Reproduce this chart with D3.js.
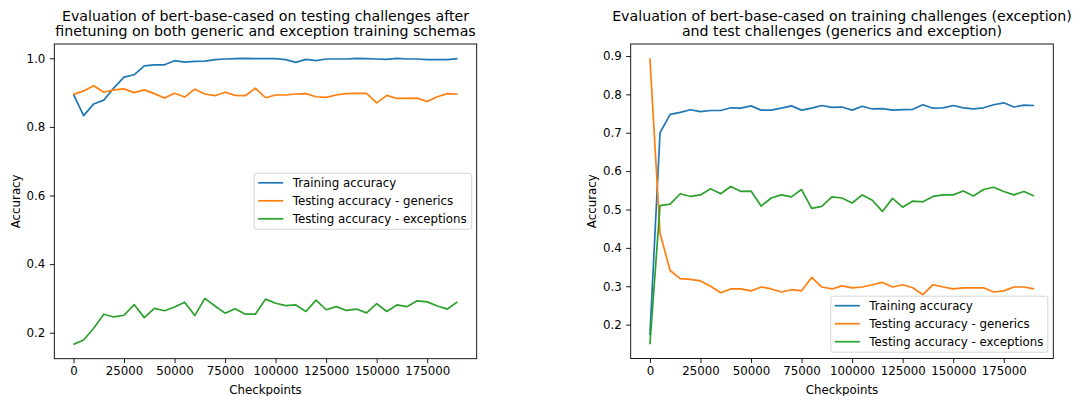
<!DOCTYPE html>
<html>
<head>
<meta charset="utf-8">
<script src="https://cdn.jsdelivr.net/npm/d3@7"></script>
<style>
  body { margin: 0; background: white; }
  text { font-family: "DejaVu Sans", sans-serif; fill: #000; }
</style>
</head>
<body>
<div id="vis"></div>
<script>
var width = 1073;
var height = 396;

// checkpoints, every 5000 steps
var checkpoints = d3.range(0, 190001, 5000);
var xTicks = [0, 25000, 50000, 75000, 100000, 125000, 150000, 175000];
var seriesNames = ["Training accuracy", "Testing accuracy - generics", "Testing accuracy - exceptions"];
var colors = ["#1f77b4", "#ff7f0e", "#2ca02c"];

// left chart
var leftTrain = [0.895, 0.833, 0.867, 0.878, 0.914, 0.945, 0.952, 0.978, 0.981, 0.981,
  0.993, 0.989, 0.991, 0.992, 0.996, 0.998, 0.999, 1.0, 0.999, 0.999,
  0.999, 0.996, 0.988, 0.997, 0.993, 0.998, 0.998, 0.998, 1.0, 0.999,
  0.998, 0.997, 1.0, 0.998, 0.998, 0.996, 0.996, 0.996, 0.999];
var leftGenerics = [0.895, 0.905, 0.920, 0.901, 0.908, 0.911, 0.900, 0.908, 0.897, 0.884,
  0.898, 0.887, 0.910, 0.896, 0.891, 0.901, 0.892, 0.891, 0.913, 0.885,
  0.893, 0.893, 0.896, 0.897, 0.888, 0.886, 0.893, 0.897, 0.898, 0.898,
  0.870, 0.892, 0.883, 0.883, 0.884, 0.874, 0.888, 0.897, 0.896];
var leftExceptions = [0.166, 0.179, 0.213, 0.254, 0.246, 0.251, 0.282, 0.244, 0.271, 0.264,
  0.275, 0.289, 0.250, 0.300, 0.278, 0.257, 0.270, 0.254, 0.254, 0.298,
  0.286, 0.279, 0.281, 0.262, 0.295, 0.267, 0.276, 0.265, 0.269, 0.258,
  0.285, 0.262, 0.281, 0.276, 0.293, 0.290, 0.278, 0.269, 0.290];
var leftTicks = [0.2, 0.4, 0.6, 0.8, 1.0];

// right chart
var rightTrain = [0.173, 0.700, 0.748, 0.753, 0.760, 0.755, 0.758, 0.758, 0.765, 0.764,
  0.770, 0.759, 0.759, 0.764, 0.770, 0.759, 0.764, 0.771, 0.766, 0.767,
  0.759, 0.769, 0.762, 0.763, 0.759, 0.760, 0.761, 0.773, 0.764, 0.765,
  0.771, 0.765, 0.762, 0.765, 0.773, 0.778, 0.767, 0.772, 0.771];
var rightGenerics = [0.894, 0.438, 0.341, 0.320, 0.318, 0.314, 0.300, 0.283, 0.293, 0.293,
  0.288, 0.298, 0.293, 0.285, 0.291, 0.288, 0.323, 0.298, 0.293, 0.301,
  0.296, 0.298, 0.304, 0.310, 0.298, 0.304, 0.296, 0.278, 0.304, 0.298,
  0.293, 0.296, 0.296, 0.296, 0.285, 0.288, 0.298, 0.298, 0.293];
var rightExceptions = [0.149, 0.510, 0.514, 0.541, 0.534, 0.538, 0.554, 0.541, 0.560, 0.547,
  0.548, 0.509, 0.530, 0.538, 0.533, 0.552, 0.503, 0.508, 0.533, 0.530,
  0.517, 0.538, 0.524, 0.495, 0.529, 0.506, 0.522, 0.520, 0.534, 0.538,
  0.538, 0.548, 0.535, 0.552, 0.558, 0.547, 0.538, 0.547, 0.535];
var rightTicks = [0.2, 0.3, 0.4, 0.5, 0.6, 0.7, 0.8, 0.9];

var svg = d3.select("#vis")
  .append("svg")
  .attr("width", width)
  .attr("height", height)
  .style("background-color", "white");

// matplotlib style 5% padding
function padded(vals) {
  var lo = d3.min(vals), hi = d3.max(vals);
  var m = (hi - lo) * 0.05;
  return [lo - m, hi + m];
}

var fs = "11.8px";

function drawPanel(opts) {
  var x0 = opts.left, x1 = opts.right, y0 = opts.top, y1 = opts.bottom;
  var g = svg.append("g");
  var all = opts.series.reduce((a, s) => a.concat(s), []);

  var xScale = d3.scaleLinear().domain(padded(checkpoints)).range([x0, x1]);
  var yScale = d3.scaleLinear().domain(padded(all)).range([y1, y0]);

  var xAxis = g.append("g")
    .attr("transform", `translate(0, ${y1})`)
    .call(d3.axisBottom(xScale).tickValues(xTicks).tickSize(4.5).tickPadding(3.5).tickFormat(d3.format("d")));
  var yAxis = g.append("g")
    .attr("transform", `translate(${x0}, 0)`)
    .call(d3.axisLeft(yScale).tickValues(opts.yTicks).tickSize(4.5).tickPadding(4.5).tickFormat(d3.format(".1f")));

  [xAxis, yAxis].forEach(a => {
    a.select(".domain").remove();
    a.selectAll("line").attr("stroke", "#000").attr("stroke-width", 0.9);
    a.selectAll("text").style("font-size", fs).style("font-family", "DejaVu Sans").attr("fill", "#000");
  });

  var line = d3.line()
    .x((d, i) => xScale(checkpoints[i]))
    .y(d => yScale(d));

  opts.series.forEach((s, i) => {
    g.append("path")
      .datum(s)
      .attr("d", line)
      .attr("fill", "none")
      .attr("stroke", colors[i])
      .attr("stroke-width", 1.7)
      .attr("stroke-linejoin", "round");
  });

  // frame
  g.append("rect")
    .attr("x", x0).attr("y", y0)
    .attr("width", x1 - x0).attr("height", y1 - y0)
    .attr("fill", "none").attr("stroke", "#000").attr("stroke-width", 0.9);

  // title
  var cx = (x0 + x1) / 2;
  opts.title.forEach((t, i) => {
    g.append("text")
      .attr("x", cx).attr("y", 20.5 + i * 15.8)
      .attr("text-anchor", "middle")
      .style("font-size", "14.2px")
      .text(t);
  });

  g.append("text")
    .attr("x", cx).attr("y", 393.5)
    .attr("text-anchor", "middle")
    .style("font-size", fs)
    .text("Checkpoints");

  g.append("text")
    .attr("transform", `translate(${opts.ylabelX}, ${(y0 + y1) / 2}) rotate(-90)`)
    .attr("text-anchor", "middle")
    .style("font-size", fs)
    .text("Accuracy");

  // legend
  var lg = g.append("g").attr("transform", `translate(${opts.legend[0]}, ${opts.legend[1]})`);
  lg.append("rect")
    .attr("width", opts.legend[2]).attr("height", 56)
    .attr("rx", 2.5)
    .attr("fill", "white").attr("fill-opacity", 0.8)
    .attr("stroke", "#d0d0d0").attr("stroke-width", 0.9);
  seriesNames.forEach((n, i) => {
    var yy = 9.5 + i * 18;
    lg.append("line")
      .attr("x1", 4).attr("x2", 29)
      .attr("y1", yy).attr("y2", yy)
      .attr("stroke", colors[i]).attr("stroke-width", 1.7);
    lg.append("text")
      .attr("x", 38.5).attr("y", yy + 4.2)
      .style("font-size", fs)
      .text(n);
  });
}

drawPanel({
  left: 54.3, right: 476.7, top: 44, bottom: 358.7,
  series: [leftTrain, leftGenerics, leftExceptions],
  yTicks: leftTicks,
  ylabelX: 20,
  title: ["Evaluation of bert-base-cased on testing challenges after",
          "finetuning on both generic and exception training schemas"],
  legend: [254.2, 173.3, 217.5]
});

drawPanel({
  left: 630.7, right: 1053.3, top: 44, bottom: 358.5,
  series: [rightTrain, rightGenerics, rightExceptions],
  yTicks: rightTicks,
  ylabelX: 596,
  title: ["Evaluation of bert-base-cased on training challenges (exception)",
          "and test challenges (generics and exception)"],
  legend: [830.8, 296.2, 217]
});
</script>
</body>
</html>
